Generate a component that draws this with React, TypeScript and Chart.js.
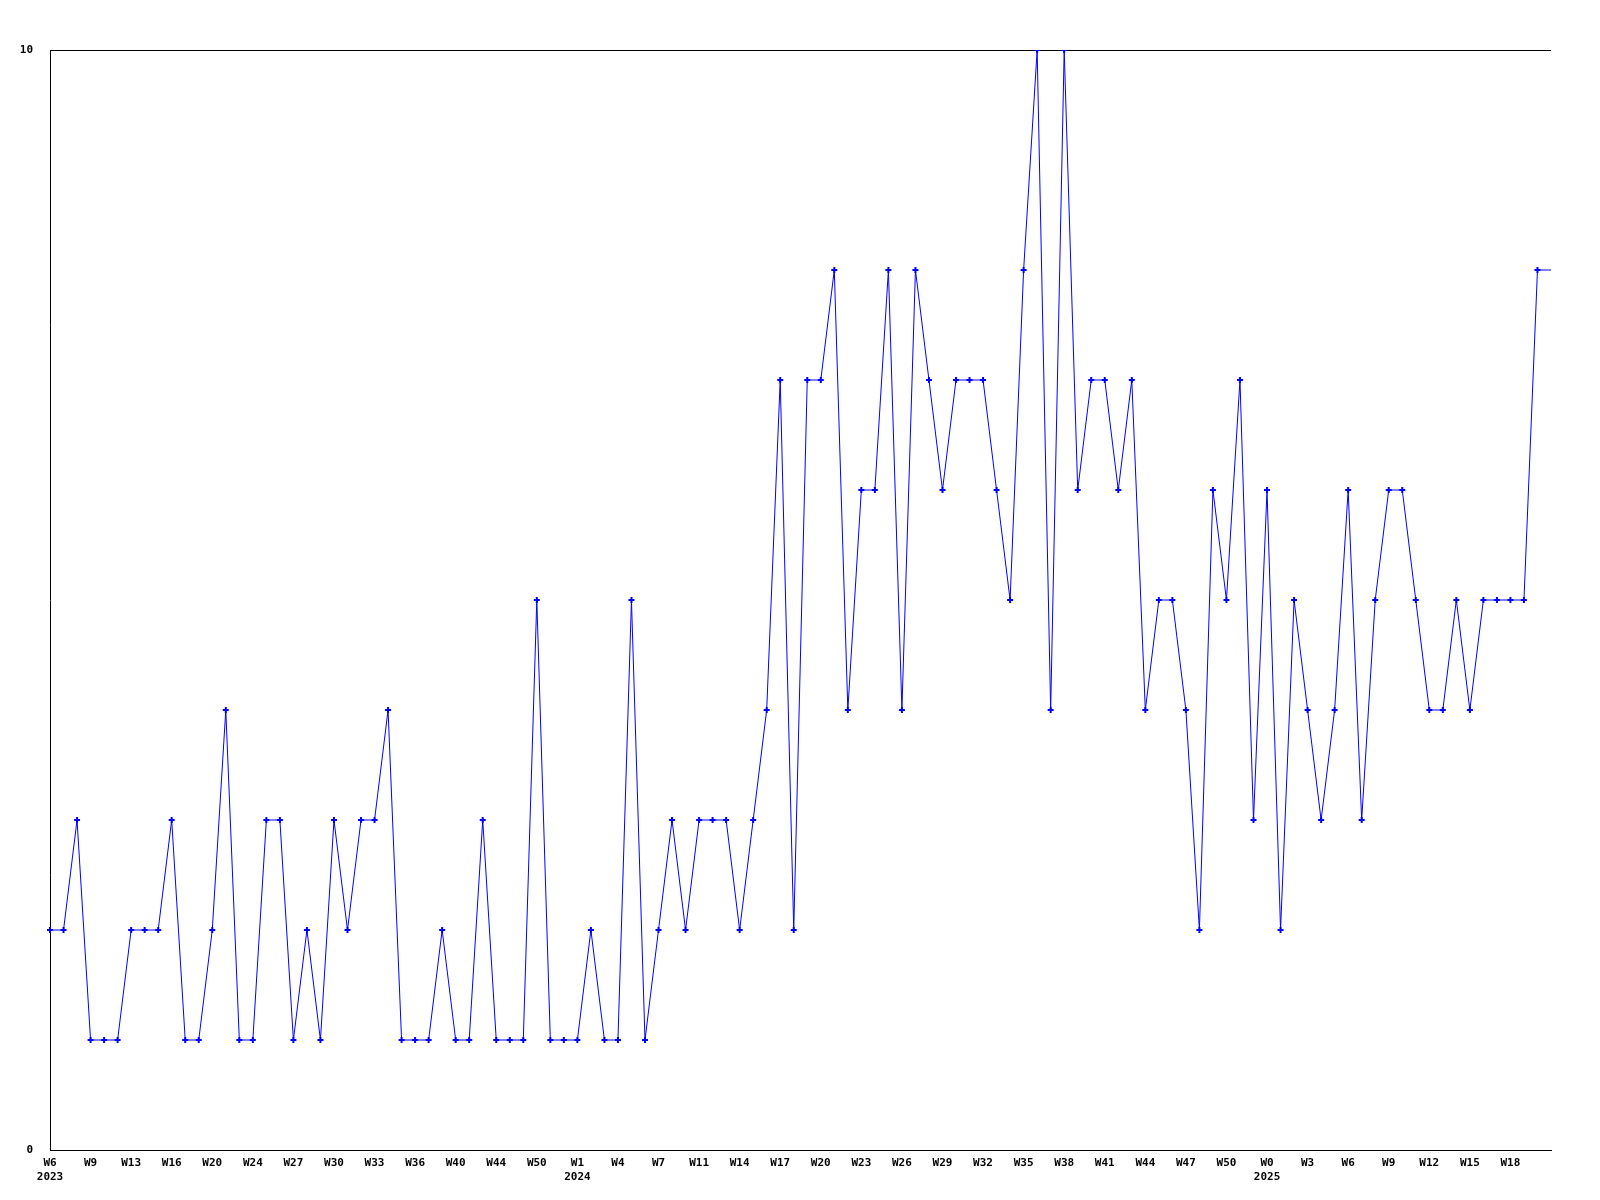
import React, { useEffect, useRef } from "react";
import { Chart, registerables } from "chart.js";

Chart.register(...registerables);

// Series values (one per point, left to right)
const values = [
  2, 2, 3, 1, 1, 1, 2, 2, 2, 3,
  1, 1, 2, 4, 1, 1, 3, 3, 1, 2,
  1, 3, 2, 3, 3, 4, 1, 1, 1, 2,
  1, 1, 3, 1, 1, 1, 5, 1, 1, 1,
  2, 1, 1, 5, 1, 2, 3, 2, 3, 3,
  3, 2, 3, 4, 7, 2, 7, 7, 8, 4,
  6, 6, 8, 4, 8, 7, 6, 7, 7, 7,
  6, 5, 8, 10, 4, 10, 6, 7, 7, 6,
  7, 4, 5, 5, 4, 2, 6, 5, 7, 3,
  6, 2, 5, 4, 3, 4, 6, 3, 5, 6,
  6, 5, 4, 4, 5, 4, 5, 5, 5, 5,
  8, 8,
];

// Tick labels shown on every third point
const weekLabels = [
  "W6", "W9", "W13", "W16", "W20", "W24", "W27", "W30", "W33", "W36",
  "W40", "W44", "W50", "W1", "W4", "W7", "W11", "W14", "W17", "W20",
  "W23", "W26", "W29", "W32", "W35", "W38", "W41", "W44", "W47", "W50",
  "W0", "W3", "W6", "W9", "W12", "W15", "W18",
];
const yearTickIndex = [0, 13, 30];
const yearNames = ["2023", "2024", "2025"];
const labelEvery = 3;

const categories = values.map((_, i) => String(i));

export default function App() {
  const ref = useRef<HTMLCanvasElement | null>(null);

  useEffect(() => {
    document.body.style.margin = "0";
    const canvas = ref.current;
    if (!canvas) return;
    const font = { family: "'DejaVu Sans Mono', monospace", size: 11, weight: "bold" as const, lineHeight: 1.3 };
    const last = values.length - 1;
    const chart = new Chart(canvas, {
      type: "line",
      data: {
        labels: categories,
        datasets: [
          {
            data: values,
            borderColor: "#0000ff",
            backgroundColor: "#0000ff",
            borderWidth: 1,
            tension: 0,
            pointStyle: "cross",
            pointRadius: (ctx: any) => (ctx.dataIndex === last ? 0 : 3),
            pointBorderWidth: 2,
            pointBorderColor: "#0000ff",
            pointBackgroundColor: "#0000ff",
            fill: false,
          },
        ],
      },
      options: {
        responsive: false,
        animation: false,
        devicePixelRatio: 1,
        layout: { padding: { top: 50, right: 49, left: 0, bottom: 0 } },
        plugins: { legend: { display: false }, tooltip: { enabled: false } },
        scales: {
          x: {
            type: "category",
            offset: false,
            grid: { display: false, drawTicks: false },
            border: { display: true, color: "#000000", width: 1 },
            ticks: {
              autoSkip: false,
              maxRotation: 0,
              minRotation: 0,
              padding: 6,
              color: "#000000",
              font,
              callback: (_v: any, idx: number) => {
                if (idx % labelEvery !== 0) return "";
                const k = idx / labelEvery;
                const w = weekLabels[k];
                if (w === undefined) return "";
                const yi = yearTickIndex.indexOf(k);
                return yi >= 0 ? [w, yearNames[yi]] : w;
              },
            },
            afterFit: (scale: any) => {
              scale.height = 50;
            },
          },
          y: {
            min: 0,
            max: 10,
            ticks: {
              stepSize: 10,
              padding: 17,
              color: "#000000",
              font,
            },
            grid: { color: "#000000", lineWidth: 1, drawTicks: false },
            border: { display: true, color: "#000000", width: 1 },
            afterFit: (scale: any) => {
              scale.width = 50;
            },
          },
        },
      },
    });
    return () => chart.destroy();
  }, []);

  return (
    <div style={{ width: 1600, height: 1200, background: "#ffffff" }}>
      <canvas ref={ref} width={1600} height={1200} />
    </div>
  );
}
